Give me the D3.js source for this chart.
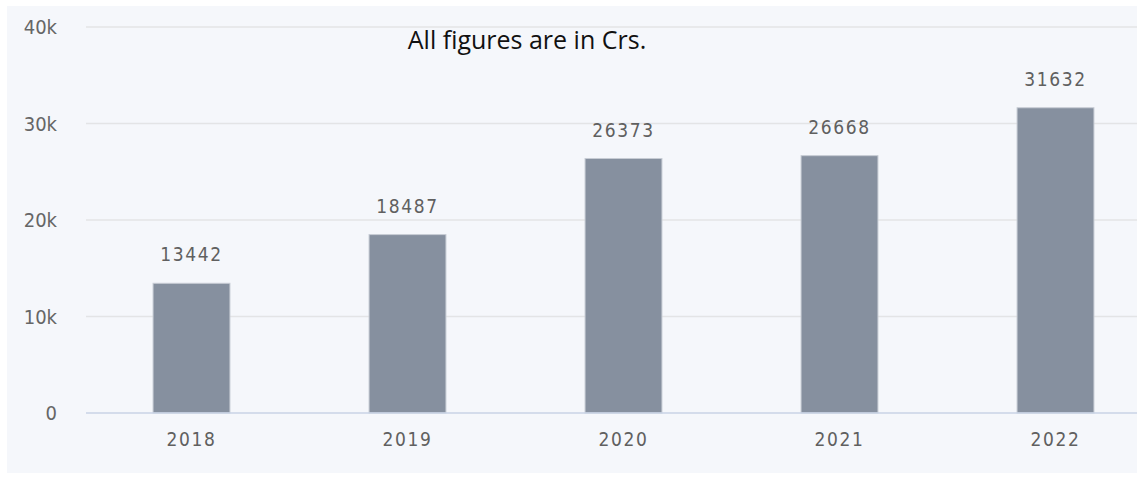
<!DOCTYPE html>
<html>
<head>
<meta charset="utf-8">
<script src="https://cdn.jsdelivr.net/npm/d3@7"></script>
<style>
  body { margin: 0; background: #fff; }
  .tick text { font-family: "DejaVu Sans Condensed", "DejaVu Sans", sans-serif; }
</style>
</head>
<body>
<div id="chart"></div>
<script>
var years = ["2018", "2019", "2020", "2021", "2022"];
var values = [13442, 18487, 26373, 26668, 31632];
var yTicks = [0, 10000, 20000, 30000, 40000];

var width = 1137,
    height = 477;

var svg = d3.select("#chart").append("svg")
    .attr("width", width)
    .attr("height", height);

// panel background
svg.append("rect")
    .attr("x", 7).attr("y", 6)
    .attr("width", width - 7).attr("height", 467)
    .attr("fill", "#f5f7fb");

var x = d3.scaleBand()
    .domain(years)
    .range([83.5, 1163.5])
    .paddingInner(0.644)
    .paddingOuter(0.322);

var y = d3.scaleLinear()
    .domain([0, 40000])
    .range([413, 27]);

// grid
svg.append("g")
    .selectAll("line")
    .data(yTicks.slice(1))
    .enter().append("line")
    .attr("x1", 86).attr("x2", width)
    .attr("y1", function(d) { return y(d); })
    .attr("y2", function(d) { return y(d); })
    .attr("stroke", "#e3e4e6")
    .attr("stroke-width", 1.5);

// y labels
svg.append("g")
    .selectAll("text")
    .data(yTicks)
    .enter().append("text")
    .attr("x", 57)
    .attr("y", function(d) { return y(d); })
    .attr("dy", "0.35em")
    .attr("text-anchor", "end")
    .attr("fill", "#666")
    .style("font-family", "'DejaVu Sans Condensed', 'DejaVu Sans', sans-serif")
    .style("font-size", "20px")
    .text(function(d) { return d === 0 ? "0" : (d / 1000) + "k"; });

// bars
svg.append("g")
    .selectAll("rect")
    .data(values)
    .enter().append("rect")
    .attr("x", function(d, i) { return x(years[i]); })
    .attr("y", function(d) { return y(d); })
    .attr("width", x.bandwidth())
    .attr("height", function(d) { return y(0) - y(d); })
    .attr("fill", "#86909f")
    .attr("stroke", "#c7ccd4")
    .attr("stroke-width", 1);

// value labels
svg.append("g")
    .selectAll("text")
    .data(values)
    .enter().append("text")
    .attr("x", function(d, i) { return x(years[i]) + x.bandwidth() / 2; })
    .attr("y", function(d) { return y(d) - 22; })
    .attr("text-anchor", "middle")
    .attr("fill", "#606060")
    .style("font-family", "'DejaVu Sans Condensed', 'DejaVu Sans', sans-serif")
    .style("font-size", "19px")
    .style("letter-spacing", "1.6px")
    .text(function(d) { return d; });

// x axis
var xAxis = svg.append("g")
    .attr("transform", "translate(0," + y(0) + ")")
    .call(d3.axisBottom(x).tickSize(0).tickPadding(20));
xAxis.select(".domain").attr("d", "M86,0H" + width).attr("stroke", "#c9d3e6").attr("stroke-width", 1.5);
xAxis.selectAll(".tick text")
    .attr("fill", "#606060")
    .style("font-size", "19px")
    .style("letter-spacing", "1.6px");

// title
svg.append("text")
    .attr("x", 527)
    .attr("y", 49)
    .attr("text-anchor", "middle")
    .attr("fill", "#111")
    .style("font-family", "'Open Sans', sans-serif")
    .style("font-size", "25px")
    .text("All figures are in Crs.");
</script>
</body>
</html>
